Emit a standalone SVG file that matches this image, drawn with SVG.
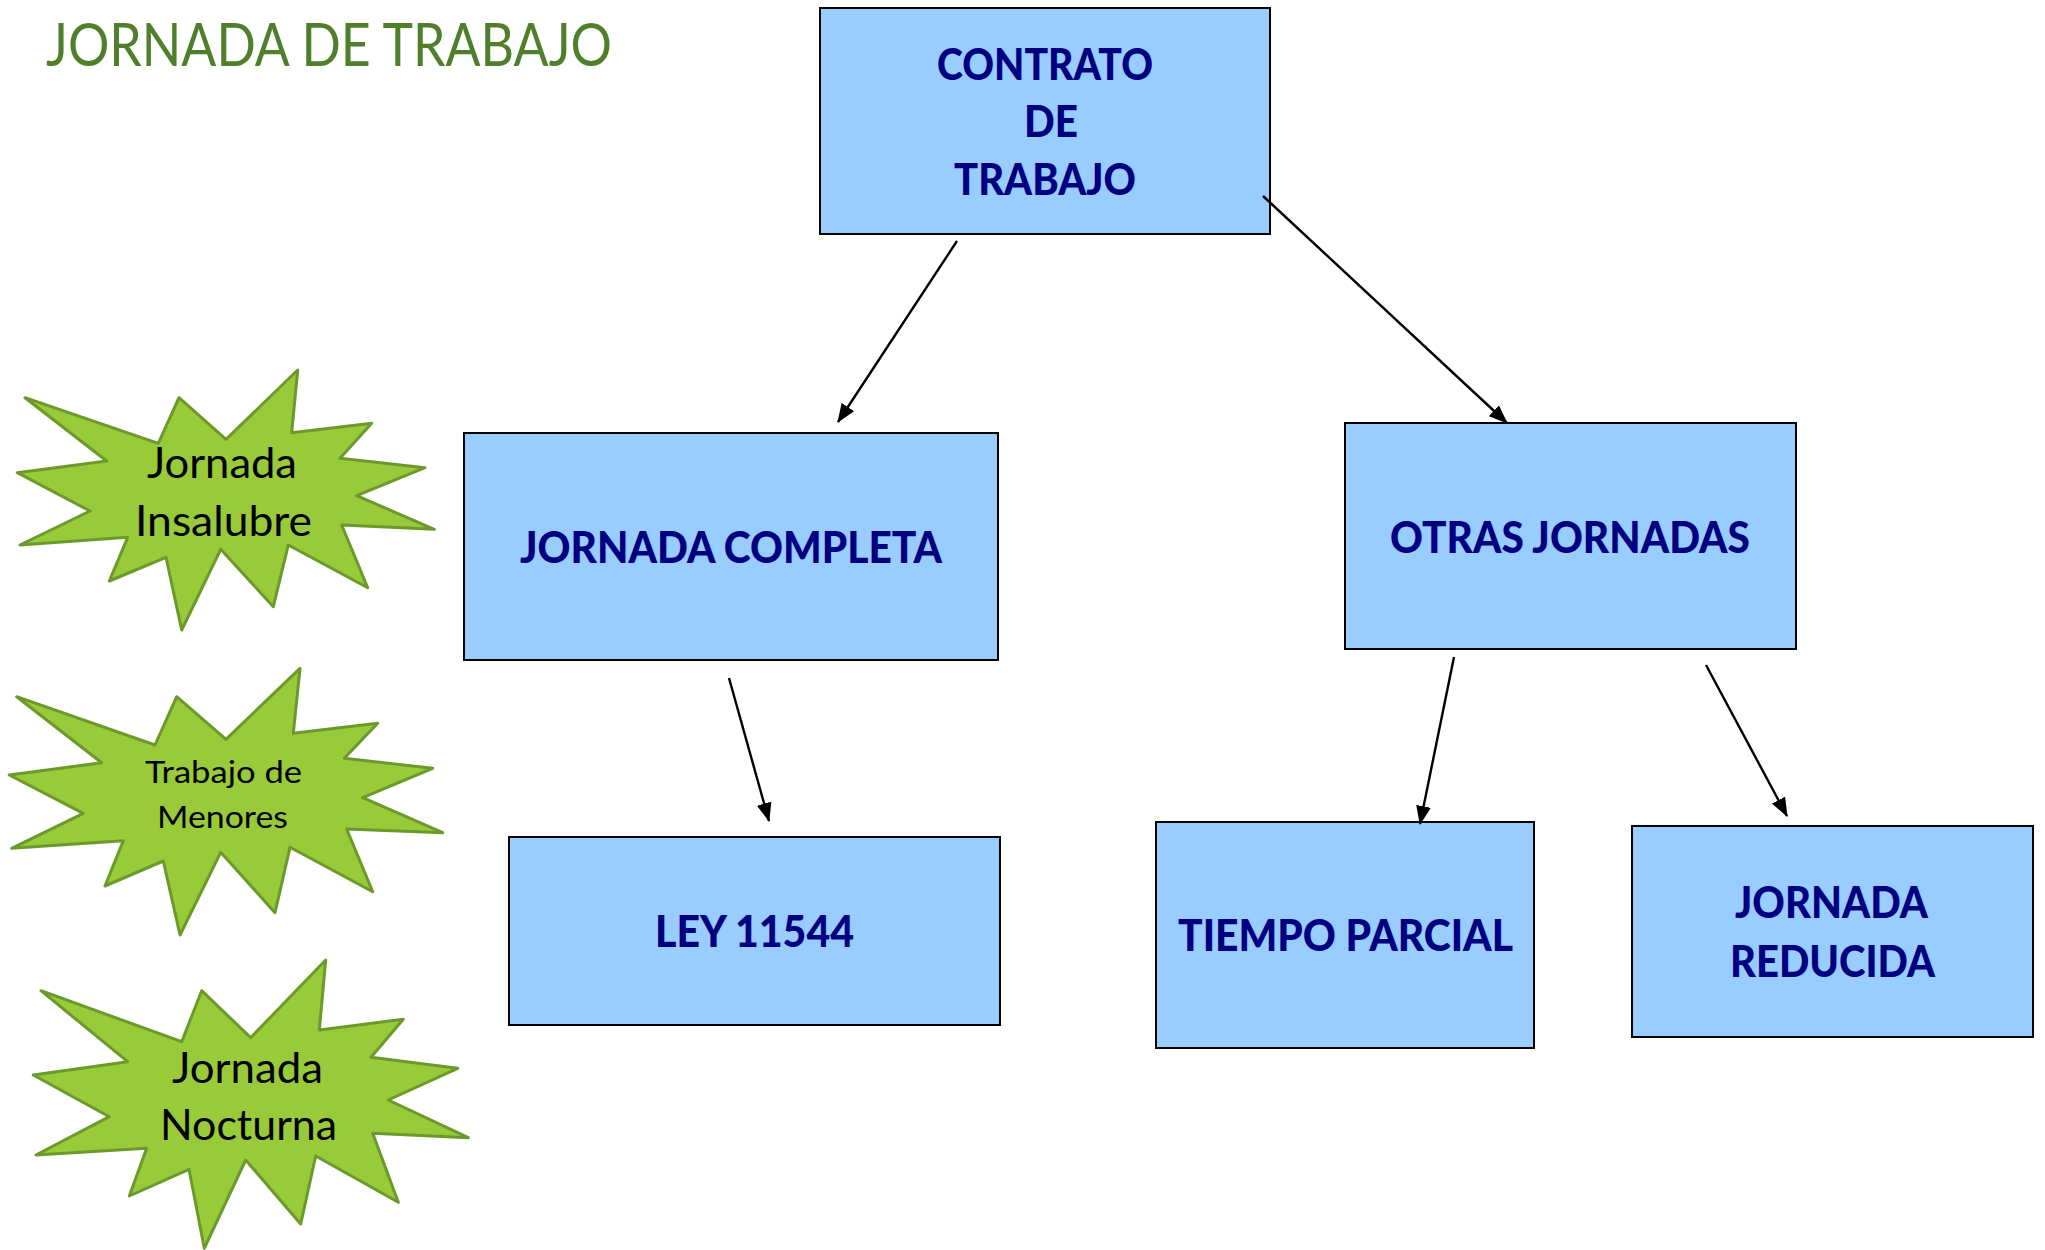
<svg xmlns="http://www.w3.org/2000/svg" width="2045" height="1250" viewBox="0 0 2045 1250">
<defs>
<style>
.box{fill:#99ccff;stroke:#000;stroke-width:2}
.bt{font-family:Lato,"Open Sans","Liberation Sans",sans-serif;font-weight:900;fill:#000080;font-size:44px}
.star{fill:#99ca3a;stroke:#6b9a2a;stroke-width:3;stroke-linejoin:round}
.st{font-family:Lato,"Open Sans","Liberation Sans",sans-serif;fill:#000;font-size:43px}
.st2{font-family:Lato,"Open Sans","Liberation Sans",sans-serif;fill:#000;font-size:30px}
.title{font-family:Lato,"Open Sans","Liberation Sans",sans-serif;fill:#4f7f2b;font-size:60px}
.conn{stroke:#000;stroke-width:2.4;fill:none}
</style>
<marker id="arr" markerUnits="userSpaceOnUse" markerWidth="19" markerHeight="15" refX="18" refY="7.5" orient="auto">
<path d="M0,0 L19,7.5 L0,15 z" fill="#000"/>
</marker>
</defs>
<rect width="2045" height="1250" fill="#fff"/>
<text class="title" x="46" y="66" textLength="566" lengthAdjust="spacingAndGlyphs">JORNADA DE TRABAJO</text>

<g id="contrato">
<rect class="box" x="820" y="8" width="450" height="226"/>
<text class="bt" x="937" y="80" textLength="216" lengthAdjust="spacingAndGlyphs">CONTRATO</text>
<text class="bt" x="1024" y="137" textLength="54" lengthAdjust="spacingAndGlyphs">DE</text>
<text class="bt" x="954" y="195" textLength="182" lengthAdjust="spacingAndGlyphs">TRABAJO</text>
</g>
<g id="jornada-completa">
<rect class="box" x="464" y="433" width="534" height="227"/>
<text class="bt" x="520" y="563" textLength="422" lengthAdjust="spacingAndGlyphs">JORNADA COMPLETA</text>
</g>
<g id="otras-jornadas">
<rect class="box" x="1345" y="423" width="451" height="226"/>
<text class="bt" x="1390" y="553" textLength="360" lengthAdjust="spacingAndGlyphs">OTRAS JORNADAS</text>
</g>
<g id="ley">
<rect class="box" x="509" y="837" width="491" height="188"/>
<text class="bt" x="655" y="947" textLength="199" lengthAdjust="spacingAndGlyphs">LEY 11544</text>
</g>
<g id="tiempo-parcial">
<rect class="box" x="1156" y="822" width="378" height="226"/>
<text class="bt" x="1178" y="951" textLength="335" lengthAdjust="spacingAndGlyphs">TIEMPO PARCIAL</text>
</g>
<g id="jornada-reducida">
<rect class="box" x="1632" y="826" width="401" height="211"/>
<text class="bt" x="1735" y="918" textLength="193" lengthAdjust="spacingAndGlyphs">JORNADA</text>
<text class="bt" x="1730" y="977" textLength="205" lengthAdjust="spacingAndGlyphs">REDUCIDA</text>
</g>

<g id="star-insalubre">
<polygon class="star" points="25,397.7 158.3,443.3 179,397.7 226,439.3 297.7,370 291.7,432.7 371.7,423.3 340,458.3 425,467.7 356.7,495.7 434.3,529.3 341.7,525 367.7,587.7 288.3,545 273.3,606.7 220.7,549.3 181.7,630 166,557.3 109.3,581 127.7,537.3 20,545 90,511 17.3,472.7 106.7,461"/>
<text class="st" x="147" y="478" textLength="150" lengthAdjust="spacingAndGlyphs">Jornada</text>
<text class="st" x="135" y="536" textLength="177" lengthAdjust="spacingAndGlyphs">Insalubre</text>
</g>
<g id="star-menores">
<polygon class="star" points="16.7,696.7 155,745 176.7,696.7 226,739.3 300,668.3 293.3,733.3 377.7,723.3 344.3,758.3 432.7,768.3 362.7,797.7 442.7,832.7 346.7,829 372.7,891.7 290,847.3 275,912.7 220.7,852.3 180,935 163.3,861 105,886 123.3,840.7 11.7,848.3 83.3,813.3 9.3,775 101.7,762.7"/>
<text class="st2" x="145" y="783" textLength="157" lengthAdjust="spacingAndGlyphs">Trabajo de</text>
<text class="st2" x="157" y="828" textLength="131" lengthAdjust="spacingAndGlyphs">Menores</text>
</g>
<g id="star-nocturna">
<polygon class="star" points="41,990.7 181.7,1041.7 201.7,990.7 250.7,1037.7 325.7,960 319.3,1030 403.3,1019.3 371,1057.3 457.7,1068.3 388.3,1100 468.3,1137.7 372.7,1133.3 398.3,1202.3 315.7,1156 300.7,1224 245.7,1160 204.3,1248.3 189,1169.3 129.3,1196 146.7,1148.3 36,1155 109.3,1116.7 33.3,1075 127.7,1061.7"/>
<text class="st" x="172" y="1083" textLength="151" lengthAdjust="spacingAndGlyphs">Jornada</text>
<text class="st" x="160" y="1140" textLength="177" lengthAdjust="spacingAndGlyphs">Nocturna</text>
</g>

<g id="connectors">
<line class="conn" x1="957" y1="241" x2="838" y2="422" marker-end="url(#arr)"/>
<line class="conn" x1="1263" y1="196" x2="1507" y2="423" marker-end="url(#arr)"/>
<line class="conn" x1="729" y1="678" x2="769" y2="821" marker-end="url(#arr)"/>
<line class="conn" x1="1454" y1="657" x2="1420" y2="824" marker-end="url(#arr)"/>
<line class="conn" x1="1706" y1="665" x2="1787" y2="816" marker-end="url(#arr)"/>
</g>
</svg>
